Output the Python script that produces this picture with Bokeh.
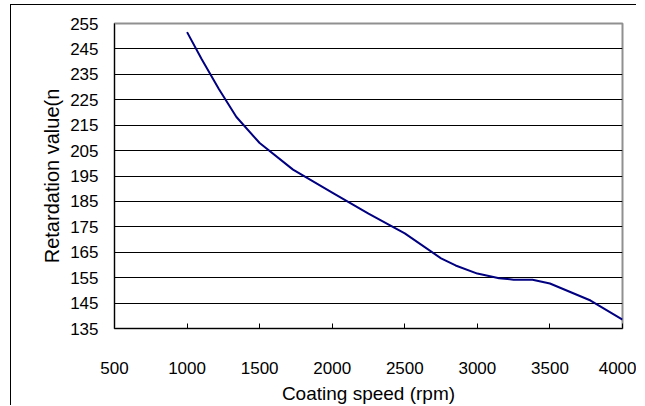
from bokeh.plotting import figure
from bokeh.models import Range1d, FixedTicker
from bokeh.embed import file_html
from bokeh.resources import INLINE

# Data
speed_rpm = [1000, 1100, 1220, 1340, 1500, 1730, 2000, 2250, 2500, 2750, 2850, 3000, 3150, 3250, 3380, 3500, 3780, 4000]
retardation = [251.6, 241.0, 229.1, 218.2, 208.0, 197.5, 188.5, 180.2, 172.4, 162.6, 159.8, 156.6, 154.8, 154.2, 154.2, 152.7, 146.0, 138.5]
x_ticks = [500, 1000, 1500, 2000, 2500, 3000, 3500, 4000]
y_ticks = [135, 145, 155, 165, 175, 185, 195, 205, 215, 225, 235, 245, 255]

FONT = "Liberation Sans"

p = figure(width=626, height=401, output_backend="svg", toolbar_location=None,
           x_range=Range1d(500, 4000), y_range=Range1d(135, 255),
           min_border_left=103, min_border_right=15, min_border_top=18, min_border_bottom=60,
           margin=(4, 0, 0, 10),
           styles={"border-left": "1px solid black", "border-top": "1px solid black"})

p.line(speed_rpm, retardation, line_color="#000080", line_width=2)

p.outline_line_color = "#909090"
p.outline_line_width = 2
p.xgrid.visible = False
p.ygrid.grid_line_color = "black"
p.ygrid.grid_line_width = 1
p.ygrid.grid_line_alpha = 1.0

p.xaxis.ticker = FixedTicker(ticks=x_ticks)
p.yaxis.ticker = FixedTicker(ticks=y_ticks)
p.xaxis.minor_tick_line_color = None
p.yaxis.minor_tick_line_color = None
p.xaxis.major_tick_in = 5
p.xaxis.major_tick_out = 0
p.yaxis.major_tick_in = 0
p.yaxis.major_tick_out = 0
p.axis.axis_line_color = "black"
p.axis.axis_line_width = 1
p.axis.major_tick_line_color = "black"

p.xaxis.axis_label = "Coating speed (rpm)"
p.yaxis.axis_label = "Retardation value(n"
for ax in (p.xaxis[0], p.yaxis[0]):
    ax.major_label_text_font = FONT
    ax.major_label_text_font_size = "17px"
    ax.major_label_text_color = "black"
    ax.axis_label_text_font = FONT
    ax.axis_label_text_font_style = "normal"
    ax.axis_label_text_color = "black"
p.xaxis.axis_label_text_font_size = "19px"
p.yaxis.axis_label_text_font_size = "20px"

p.xaxis.major_label_standoff = 33
p.xaxis.axis_label_standoff = 6
p.yaxis.major_label_standoff = 16
p.yaxis.axis_label_standoff = 4

p.background_fill_color = "white"
p.border_fill_color = "white"

open("out.html", "w").write(file_html(p, INLINE))
